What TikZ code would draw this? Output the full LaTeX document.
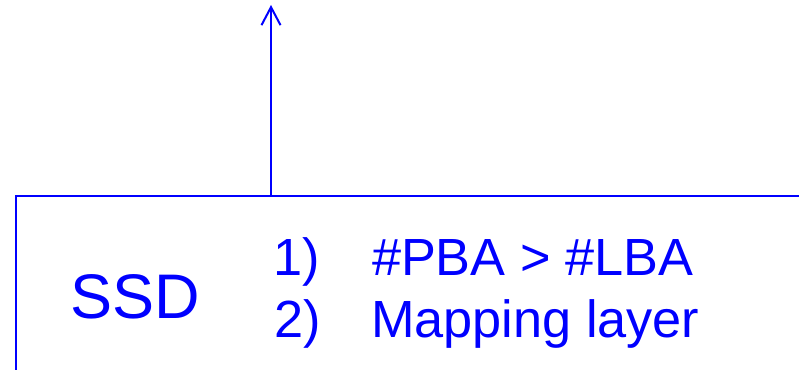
\documentclass[tikz,border=0pt]{standalone}
\usepackage{fontspec}
\setmainfont{Liberation Sans}
\usetikzlibrary{arrows.meta}
\definecolor{pblue}{RGB}{0,0,255}
\tikzset{
  txt/.style={anchor=base west, inner sep=0pt, outer sep=0pt, text=pblue},
  ln/.style={draw=pblue, line width=2pt},
  lst/.style={txt, font=\fontsize{52.3}{52.3}\selectfont},
}
\begin{document}
\begin{tikzpicture}[x=1pt,y=-1pt]
\useasboundingbox (0,0) rectangle (799,369);
\draw[ln] (16,372) -- (16,196) -- (802,196);
\coordinate (top) at (271,196);
\coordinate (tip) at (271,5);
\draw[ln, -{Straight Barb[length=18pt,width=19pt,line width=2pt]}] (top) -- (tip);
\node[txt, font=\fontsize{63}{63}\selectfont] (ssd) at (70,318) {SSD};
\node[lst] (n1) at (273,275) {1)};
\node[lst] (t1) at (372,275) {\#PBA > \#LBA};
\node[lst] (n2) at (274,337) {2)};
\node[lst] (t2) at (371,337) {Mapping layer};
\end{tikzpicture}
\end{document}
